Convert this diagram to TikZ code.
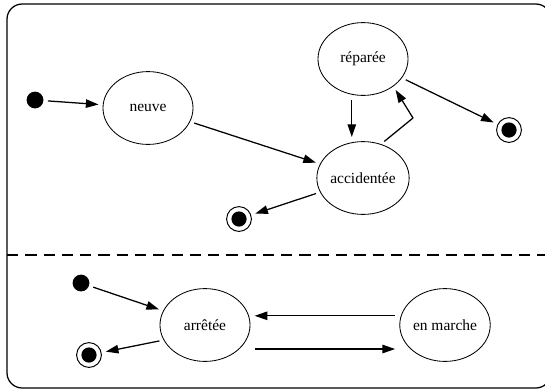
\documentclass[tikz,border=0pt]{standalone}
\usepackage{fontspec}
\setmainfont{Liberation Serif}
\usetikzlibrary{shapes.geometric,arrows.meta}

\tikzset{
  etat/.style={ellipse, draw, line width=0.6pt, minimum width=2.25cm, minimum height=1.82cm, inner sep=0pt, font=\fontsize{11}{13}\selectfont},
  debut/.style={circle, fill, minimum size=0.42cm, inner sep=0pt},
  fin/.style={circle, draw, line width=0.7pt, minimum size=0.62cm, inner sep=0pt,
    path picture={\fill (path picture bounding box.center) circle (0.19cm);}},
  trans/.style={line width=0.9pt, -{Triangle[length=9pt,width=6pt]}, shorten >=3pt, shorten <=3pt}
}

\begin{document}
\begin{tikzpicture}[x=0.025cm, y=0.025cm, line join=round]
    \useasboundingbox (0,0) rectangle (545,391);
    \clip (0,0) rectangle (545,391);

    % cadre (coupé à droite)
    \draw[line width=0.9pt, rounded corners=0.38cm] (7,3) rectangle (551,387);
    \draw[line width=1.1pt, dash pattern=on 8pt off 5pt] (7,136) -- (545,136);

    % partie haute
    \node[debut] (ini1) at (35,291) {};
    \node[etat] (neuve) at (148,283) {neuve};
    \node[etat] (rep) at (363,332) {réparée};
    \node[etat] (acc) at (363,213) {accidentée};
    \node[fin] (fin1) at (509,261) {};
    \node[fin] (fin2) at (239,172) {};
    \coordinate (coude) at (413,273);

    \draw[trans] (ini1) -- (neuve);
    \draw[trans] (neuve) -- (acc);
    \draw[trans] ([xshift=-0.28cm]rep.south) -- ([xshift=-0.28cm]acc.north);
    \draw[trans] (acc.62) -- (coude) -- (rep.-42);
    \draw[trans] (rep) -- (fin1);
    \draw[trans] (acc) -- (fin2);

    % partie basse
    \node[debut] (ini2) at (81,108) {};
    \node[etat] (arr) at (205,66) {arrêtée};
    \node[etat] (mar) at (445,66) {en marche};
    \node[fin] (fin3) at (89,36) {};

    \draw[trans] (ini2) -- (arr);
    \draw[trans] ([yshift=0.23cm]mar.west) -- ([yshift=0.23cm]arr.east);
    \draw[trans] ([yshift=-0.6cm]arr.east) -- ([yshift=-0.6cm]mar.west);
    \draw[trans] (arr.200) -- (fin3);
\end{tikzpicture}
\end{document}
